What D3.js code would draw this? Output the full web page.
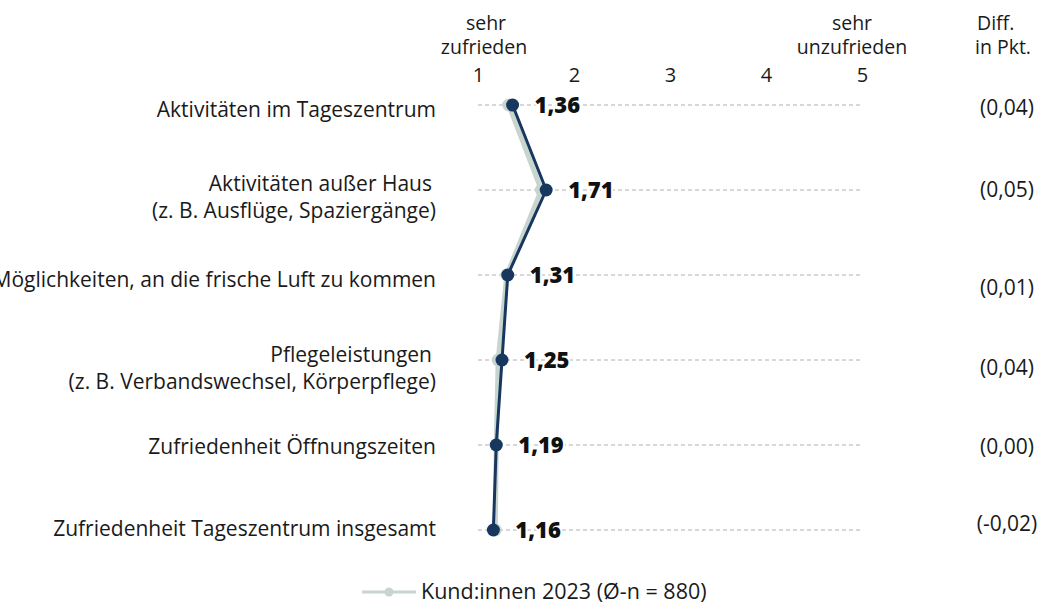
<!DOCTYPE html>
<html>
<head>
<meta charset="utf-8">
<script src="https://cdn.jsdelivr.net/npm/d3@7"></script>
<style>
  body { margin: 0; background: #fff; }
  svg { display: block; font-family: "Open Sans", "Noto Sans", sans-serif; }
</style>
</head>
<body>
<div id="chart"></div>
<script>
// Daten
const categories = [
  ["Aktivitäten im Tageszentrum"],
  ["Aktivitäten außer Haus", "(z. B. Ausflüge, Spaziergänge)"],
  ["Möglichkeiten, an die frische Luft zu kommen"],
  ["Pflegeleistungen", "(z. B. Verbandswechsel, Körperpflege)"],
  ["Zufriedenheit Öffnungszeiten"],
  ["Zufriedenheit Tageszentrum insgesamt"]
];
const values2024 = [1.36, 1.71, 1.31, 1.25, 1.19, 1.16];
const values2023 = [1.32, 1.66, 1.30, 1.21, 1.19, 1.18];
const diffs = ["(0,04)", "(0,05)", "(0,01)", "(0,04)", "(0,00)", "(-0,02)"];
const ticks = [1, 2, 3, 4, 5];
const legendLabel = "Kund:innen 2023 (Ø-n = 880)";

const width = 1041, height = 612;
const dark = "#17375e", light = "#c8d5ce", textCol = "#1a1a1a";
const fs = 21;

const svg = d3.select("#chart").append("svg")
  .attr("width", width).attr("height", height);

const x = d3.scaleLinear().domain([1, 5]).range([478, 862]);
const y = d3.scalePoint().domain(d3.range(categories.length)).range([105, 530]);

// Kopfzeile
const head = svg.append("g").attr("fill", textCol).attr("font-size", 19.5).attr("text-anchor", "middle");
head.append("text").attr("x", x(1) + 8).attr("y", 30).text("sehr");
head.append("text").attr("x", x(1) + 6).attr("y", 54).text("zufrieden");
head.append("text").attr("x", x(5) - 10).attr("y", 30).text("sehr");
head.append("text").attr("x", x(5) - 10).attr("y", 54).text("unzufrieden");
head.append("text").attr("x", 977).attr("y", 30).attr("text-anchor", "start").text("Diff.");
head.append("text").attr("x", 975).attr("y", 54).attr("text-anchor", "start").text("in Pkt.");

// Achse oben
svg.append("g")
  .attr("transform", "translate(0,82)")
  .call(d3.axisTop(x).tickValues(ticks).tickFormat(d3.format("d")).tickSize(0).tickPadding(0))
  .call(g => g.select(".domain").remove())
  .call(g => g.selectAll("text").attr("font-size", 20).attr("fill", textCol)
    .attr("font-family", "\"Open Sans\", \"Noto Sans\", sans-serif"));

// Gitterlinien
svg.append("g").selectAll("line")
  .data(categories)
  .join("line")
  .attr("x1", x(1)).attr("x2", x(5))
  .attr("y1", (d, i) => y(i)).attr("y2", (d, i) => y(i))
  .attr("stroke", "#b0b0b0").attr("stroke-dasharray", "4,3");

// Kategorien
const catNudge = [12, 1, 12, 2, 9, 6];
const catG = svg.append("g").attr("font-size", fs).attr("fill", textCol).attr("text-anchor", "end");
categories.forEach((lines, i) => {
  const t = catG.append("text").attr("x", 436).attr("y", y(i) + catNudge[i]);
  lines.forEach((l, j) => {
    t.append("tspan").attr("x", j === 0 && lines.length > 1 ? 432 : 436)
      .attr("dy", j === 0 ? 0 : 26.5).text(l);
  });
});

// Diff-Spalte
const diffNudge = [10, 7, 20, 15, 9, 1];
svg.append("g").attr("font-size", fs).attr("fill", textCol).attr("text-anchor", "middle")
  .selectAll("text").data(diffs).join("text")
  .attr("x", 1007).attr("y", (d, i) => y(i) + diffNudge[i])
  .text(d => d);

// Linien
const line = d3.line().x(d => x(d)).y((d, i) => y(i));
svg.append("path").datum(values2023).attr("d", line)
  .attr("fill", "none").attr("stroke", light).attr("stroke-width", 5);
svg.append("g").selectAll("circle").data(values2023).join("circle")
  .attr("cx", d => x(d)).attr("cy", (d, i) => y(i)).attr("r", 6.5).attr("fill", light);

svg.append("path").datum(values2024).attr("d", line)
  .attr("fill", "none").attr("stroke", dark).attr("stroke-width", 3);
svg.append("g").selectAll("circle").data(values2024).join("circle")
  .attr("cx", d => x(d)).attr("cy", (d, i) => y(i)).attr("r", 6.5).attr("fill", dark);

// Wertelabels
svg.append("g").attr("font-size", 22).attr("font-weight", 800).attr("fill", "#111")
  .selectAll("text").data(values2024).join("text")
  .attr("x", d => x(d) + 22).attr("y", (d, i) => y(i) + 8)
  .attr("stroke", "#fff").attr("stroke-width", 4).attr("paint-order", "stroke")
  .text(d => d3.format(".2f")(d).replace(".", ","));

// Legende
const leg = svg.append("g").attr("transform", "translate(362,592)");
leg.append("line").attr("x1", 0).attr("x2", 54).attr("stroke", light).attr("stroke-width", 3);
leg.append("circle").attr("cx", 27).attr("r", 4.5).attr("fill", light);
leg.append("text").attr("x", 59).attr("y", 7).attr("font-size", 21.5).attr("fill", textCol).text(legendLabel);
</script>
</body>
</html>
